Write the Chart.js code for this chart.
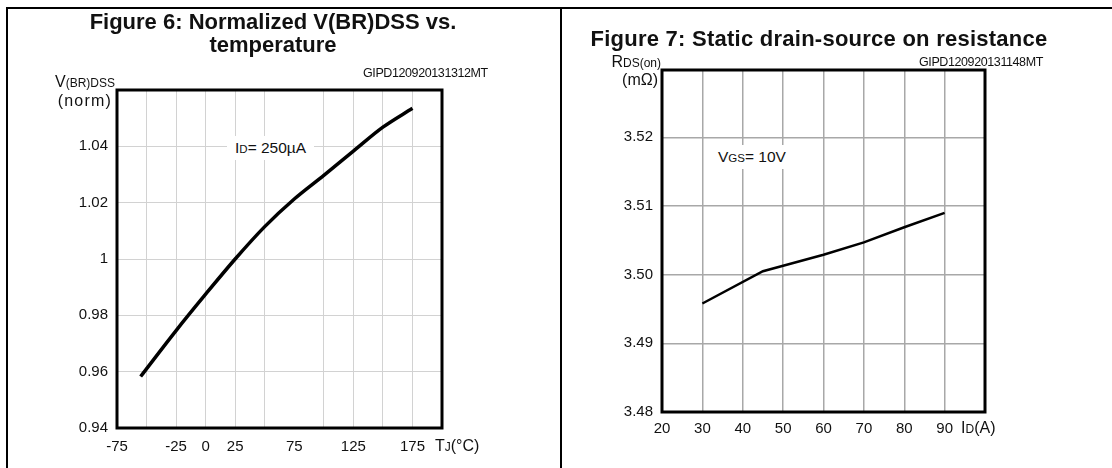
<!DOCTYPE html>
<html>
<head>
<meta charset="utf-8">
<script src="https://cdn.jsdelivr.net/npm/chart.js@4.4.1/dist/chart.umd.min.js"></script>
<style>
  html,body{margin:0;padding:0;background:#fff;}
  body{width:1112px;height:468px;position:relative;overflow:hidden;font-family:"Liberation Sans",Arial,sans-serif;color:#111;}
  canvas{position:absolute;top:0;}
  .t{position:absolute;white-space:nowrap;}
  .title{font-weight:bold;font-size:22px;text-align:center;line-height:23px;}
  .code{font-size:12.5px;letter-spacing:-0.4px;}
  .lab{font-size:16px;}
  .lab small{font-size:12px;}
  .note{background:#fff;font-size:15.5px;padding:3px 8px;}
  .note small{font-size:11.5px;}
  .rule{position:absolute;background:#000;}
</style>
</head>
<body>
<div class="rule" style="left:6px;top:7px;width:1106px;height:2px"></div>
<div class="rule" style="left:6px;top:7px;width:2px;height:461px"></div>
<div class="rule" style="left:560px;top:7px;width:2px;height:461px"></div>

<canvas id="c1" width="556" height="468" style="left:0"></canvas>
<canvas id="c2" width="550" height="468" style="left:562px"></canvas>

<div class="t title" style="left:8px;width:530px;top:10px">Figure 6: Normalized V(BR)DSS vs.<br>temperature</div>
<div class="t code" style="left:363px;top:66px">GIPD120920131312MT</div>
<div class="t lab" style="right:997px;top:73px">V<small>(BR)DSS</small></div>
<div class="t lab" style="right:1000px;top:92px;letter-spacing:1.2px">(norm)</div>
<div class="t note" style="left:227px;top:136px">I<small>D</small>= 250µA</div>
<div class="t lab" style="left:435px;top:437px">T<small>J</small>(°C)</div>

<div class="t title" style="left:562px;width:514px;top:27px;letter-spacing:0.25px">Figure 7: Static drain-source on resistance</div>
<div class="t code" style="left:919px;top:55px">GIPD120920131148MT</div>
<div class="t lab" style="right:451px;top:53px">R<small>DS(on)</small></div>
<div class="t lab" style="right:454px;top:71px">(mΩ)</div>
<div class="t note" style="left:710px;top:145px">V<small>GS</small>= 10V</div>
<div class="t lab" style="left:961px;top:419px">I<small>D</small>(A)</div>

<script>
// Figure 6 data
const tempC = [-55, -25, 0, 25, 50, 75, 100, 125, 150, 175];
const vNorm = [0.9583, 0.9746, 0.9875, 1.0, 1.0115, 1.0213, 1.0297, 1.0383, 1.0468, 1.0535];
const tempGrid = [-75, -50, -25, 0, 25, 50, 75, 100, 125, 150, 175, 200];
const tempTickLabels = [-75, -25, 0, 25, 75, 125, 175];
const vTicks = [0.94, 0.96, 0.98, 1.0, 1.02, 1.04, 1.06];
const vTickLabels = ['0.94', '0.96', '0.98', '1', '1.02', '1.04', ''];

// Figure 7 data
const idAmps = [30, 45, 50, 60, 70, 80, 90];
const rdsOn = [3.4958, 3.5005, 3.5013, 3.5029, 3.5047, 3.5069, 3.5090];
const idGrid = [20, 30, 40, 50, 60, 70, 80, 90, 100];
const idTickLabels = ['20', '30', '40', '50', '60', '70', '80', '90', ''];
const rTicks = [3.48, 3.49, 3.50, 3.51, 3.52];
const rTickLabels = ['3.48', '3.49', '3.50', '3.51', '3.52'];

const tickFont = {family: '"Liberation Sans", Arial, sans-serif', size: 15};

const frame = {
  id: 'frame',
  afterDraw(chart){
    const {ctx, chartArea: a} = chart;
    ctx.save();
    ctx.strokeStyle = '#000';
    ctx.lineWidth = 3;
    ctx.strokeRect(a.left, a.top, a.right - a.left, a.bottom - a.top);
    ctx.restore();
  }
};

function gridColor(hidden, col){
  return ctx => (ctx.tick && hidden.includes(ctx.tick.value)) ? 'rgba(0,0,0,0)' : col;
}

new Chart(document.getElementById('c1'), {
  type: 'line',
  data: { datasets: [{
    data: tempC.map((t, i) => ({x: t, y: vNorm[i]})),
    borderColor: '#000', borderWidth: 3.5, pointRadius: 0,
    cubicInterpolationMode: 'monotone', fill: false
  }]},
  options: {
    responsive: false, animation: false,
    layout: { padding: {left: 0, top: 90, right: 114, bottom: 10} },
    plugins: { legend: {display: false}, tooltip: {enabled: false} },
    scales: {
      x: {
        type: 'linear', min: -75, max: 200,
        afterBuildTicks: s => { s.ticks = tempGrid.map(v => ({value: v})); },
        afterFit: s => { s.height = 30; },
        ticks: { autoSkip: false, maxRotation: 0, font: tickFont, color: '#111', padding: 10,
          callback: v => tempTickLabels.includes(v) ? String(v) : '' },
        grid: { color: gridColor([-75, 75, 200], '#d2d2d2'), lineWidth: 1, drawTicks: false },
        border: { display: false }
      },
      y: {
        min: 0.94, max: 1.06,
        afterBuildTicks: s => { s.ticks = vTicks.map(v => ({value: v})); },
        afterFit: s => { s.width = 117; },
        ticks: { autoSkip: false, font: tickFont, color: '#111', padding: 9,
          callback: (v, i) => vTickLabels[i] },
        grid: { color: gridColor([0.94, 1.06], '#d2d2d2'), lineWidth: 1, drawTicks: false },
        border: { display: false }
      }
    }
  },
  plugins: [frame]
});

new Chart(document.getElementById('c2'), {
  type: 'line',
  data: { datasets: [{
    data: idAmps.map((a, i) => ({x: a, y: rdsOn[i]})),
    borderColor: '#000', borderWidth: 2.5, pointRadius: 0,
    tension: 0, fill: false
  }]},
  options: {
    responsive: false, animation: false,
    layout: { padding: {left: 0, top: 70, right: 550 - 423, bottom: 20} },
    plugins: { legend: {display: false}, tooltip: {enabled: false} },
    scales: {
      x: {
        type: 'linear', min: 20, max: 100,
        afterBuildTicks: s => { s.ticks = idGrid.map(v => ({value: v})); },
        afterFit: s => { s.height = 36; },
        ticks: { autoSkip: false, maxRotation: 0, font: tickFont, color: '#111', padding: 8,
          callback: (v, i) => idTickLabels[i] },
        grid: { color: gridColor([20, 100], '#a8a8a8'), lineWidth: 1.5, drawTicks: false },
        border: { display: false }
      },
      y: {
        min: 3.48, max: 3.5298,
        afterBuildTicks: s => { s.ticks = rTicks.map(v => ({value: v})); },
        afterFit: s => { s.width = 100; },
        ticks: { autoSkip: false, font: tickFont, color: '#111', padding: 9,
          callback: (v, i) => rTickLabels[i] },
        grid: { color: gridColor([3.48], '#a8a8a8'), lineWidth: 1.5, drawTicks: false },
        border: { display: false }
      }
    }
  },
  plugins: [frame]
});
</script>
</body>
</html>
